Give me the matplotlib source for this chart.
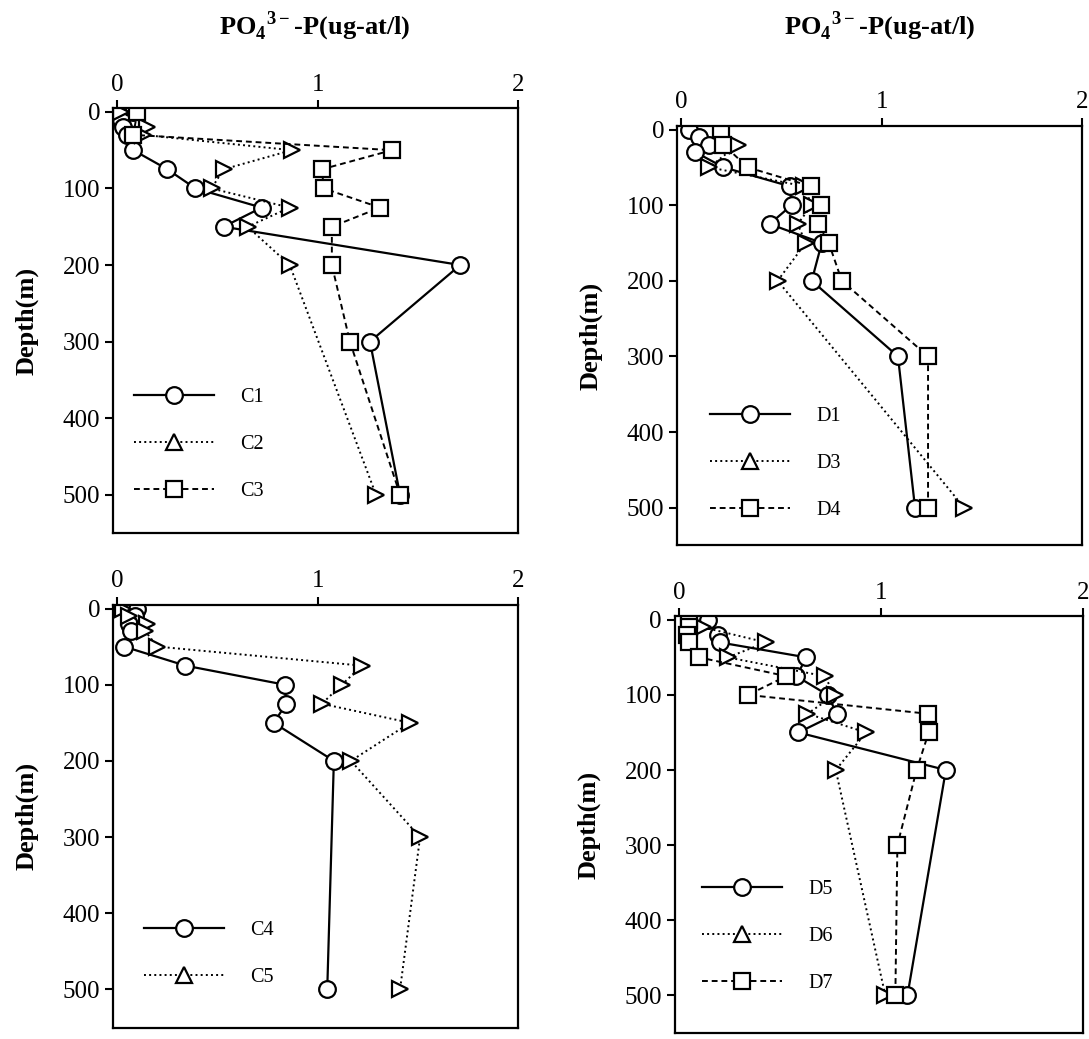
import matplotlib
matplotlib.use('Agg')
import matplotlib.pyplot as plt
from matplotlib.lines import Line2D

plt.rcParams['font.family'] = ['Liberation Serif', 'DejaVu Serif']
plt.rcParams['mathtext.fontset'] = 'custom'
plt.rcParams['mathtext.rm'] = 'Liberation Serif'
plt.rcParams['mathtext.bf'] = 'Liberation Serif:bold'

# PO4-P (ug-at/l) against depth (m)
c1_depth = [0, 10, 20, 30, 50, 75, 100, 125, 150, 200, 300, 500]
c1_po4 = [0.08, 0.02, 0.03, 0.05, 0.08, 0.25, 0.39, 0.72, 0.53, 1.71, 1.26, 1.41]
c2_depth = [0, 20, 30, 50, 75, 100, 125, 150, 200, 500]
c2_po4 = [0.02, 0.15, 0.13, 0.87, 0.53, 0.47, 0.86, 0.65, 0.86, 1.29]
c3_depth = [0, 30, 50, 75, 100, 125, 150, 200, 300, 500]
c3_po4 = [0.10, 0.08, 1.37, 1.02, 1.03, 1.31, 1.07, 1.07, 1.16, 1.41]

d1_depth = [0, 10, 20, 30, 50, 75, 100, 125, 150, 200, 300, 500]
d1_po4 = [0.04, 0.09, 0.14, 0.07, 0.21, 0.54, 0.55, 0.44, 0.70, 0.65, 1.08, 1.165]
d3_depth = [20, 50, 75, 100, 125, 150, 200, 500]
d3_po4 = [0.28, 0.14, 0.61, 0.65, 0.58, 0.62, 0.48, 1.41]
d4_depth = [0, 20, 50, 75, 100, 125, 150, 200, 300, 500]
d4_po4 = [0.20, 0.21, 0.33, 0.645, 0.695, 0.68, 0.735, 0.80, 1.23, 1.23]

c4_depth = [0, 10, 20, 30, 50, 75, 100, 125, 150, 200, 500]
c4_po4 = [0.097, 0.088, 0.06, 0.066, 0.034, 0.34, 0.835, 0.843, 0.78, 1.08, 1.047]
c5_depth = [0, 10, 20, 30, 50, 75, 100, 125, 150, 200, 300, 500]
c5_po4 = [0.03, 0.06, 0.15, 0.14, 0.20, 1.22, 1.12, 1.02, 1.46, 1.165, 1.51, 1.41]

d5_depth = [0, 20, 30, 50, 75, 100, 125, 150, 200, 500]
d5_po4 = [0.14, 0.19, 0.20, 0.63, 0.58, 0.735, 0.78, 0.59, 1.32, 1.13]
d6_depth = [10, 30, 50, 75, 100, 125, 150, 200, 500]
d6_po4 = [0.12, 0.43, 0.24, 0.72, 0.77, 0.635, 0.925, 0.775, 1.02]
d7_depth = [0, 10, 20, 30, 50, 75, 100, 125, 150, 200, 300, 500]
d7_po4 = [0.05, 0.05, 0.04, 0.05, 0.10, 0.53, 0.34, 1.23, 1.235, 1.175, 1.08, 1.07]

# line style per series type: circle solid, triangle dotted, square dashed
styles = {
    'o': dict(ls='-', lw=1.6, marker='o', ms=12),
    '>': dict(ls=':', lw=1.4, marker='>', ms=12),
    's': dict(ls=(0, (3, 2)), lw=1.4, marker='s', ms=11),
}
legend_marker = {'o': 'o', '>': '^', 's': 's'}

fig = plt.figure(figsize=(10.89, 10.39), dpi=100)


def profile(rect, series, legend_anchor):
    ax = fig.add_axes(rect)
    handles = []
    for x, d, m, name in series:
        st = styles[m]
        ax.plot(x, d, color='black', mfc='white', mec='black', mew=1.6, **st)
        handles.append(Line2D([], [], color='black', ls=st['ls'], lw=st['lw'],
                              marker=legend_marker[m], ms=st['ms'], mfc='white',
                              mec='black', mew=1.6, label=name))
    ax.set_xlim(-0.02, 2.0)
    ax.set_ylim(550, -5)
    ax.xaxis.tick_top()
    ax.set_xticks([0, 1, 2])
    ax.set_yticks(range(0, 501, 100))
    ax.tick_params(direction='out', length=6, width=1.5, labelsize=18)
    ax.tick_params(axis='x', pad=3)
    for sp in ax.spines.values():
        sp.set_linewidth(1.6)
    ax.set_ylabel('Depth(m)', fontsize=19, fontweight='bold', labelpad=17)
    ax.legend(handles=handles, loc='lower left', bbox_to_anchor=legend_anchor,
              frameon=False, fontsize=14.5, handlelength=4.0, handletextpad=1.3,
              labelspacing=1.4, borderpad=0, borderaxespad=0, numpoints=1)
    return ax


profile([0.104, 0.487, 0.372, 0.409],
        [(c1_po4, c1_depth, 'o', 'C1'), (c2_po4, c2_depth, '>', 'C2'),
         (c3_po4, c3_depth, 's', 'C3')], (0.05, 0.075))
profile([0.622, 0.475, 0.372, 0.404],
        [(d1_po4, d1_depth, 'o', 'D1'), (d3_po4, d3_depth, '>', 'D3'),
         (d4_po4, d4_depth, 's', 'D4')], (0.08, 0.06))
profile([0.104, 0.011, 0.372, 0.407],
        [(c4_po4, c4_depth, 'o', 'C4'), (c5_po4, c5_depth, '>', 'C5')],
        (0.075, 0.095))
profile([0.620, 0.006, 0.3747, 0.401],
        [(d5_po4, d5_depth, 'o', 'D5'), (d6_po4, d6_depth, '>', 'D6'),
         (d7_po4, d7_depth, 's', 'D7')], (0.065, 0.095))

title = r'PO$_\mathbf{4}$$^\mathbf{3-}$-P(ug-at/l)'
fig.text(0.289, 0.975, title, ha='center', va='center', fontsize=19, fontweight='bold')
fig.text(0.808, 0.975, title, ha='center', va='center', fontsize=19, fontweight='bold')

fig.savefig('out.png', dpi=100)
